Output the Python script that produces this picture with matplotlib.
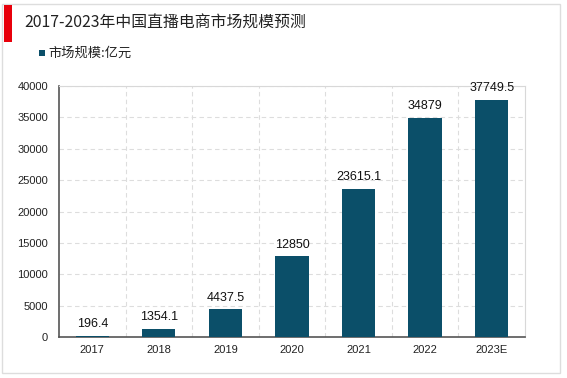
import matplotlib.pyplot as plt
from matplotlib.patches import Rectangle

plt.rcParams['font.family'] = ['Noto Sans CJK SC', 'DejaVu Sans']

years = ['2017', '2018', '2019', '2020', '2021', '2022', '2023E']
values = [196.4, 1354.1, 4437.5, 12850, 23615.1, 34879, 37749.5]
labels = ['196.4', '1354.1', '4437.5', '12850', '23615.1', '34879', '37749.5']
bar_color = '#0b4f69'
num_font = ['Liberation Sans', 'DejaVu Sans']

W, H = 567, 378
fig = plt.figure(figsize=(W / 100, H / 100), dpi=100)

# outer frame and red marker
fig.patches.append(Rectangle((2 / W, 5 / H), 558 / W, 369 / H, transform=fig.transFigure,
                             fill=False, edgecolor='#dddddd', linewidth=1))
fig.patches.append(Rectangle((4 / W, 1 - 42 / H), 8 / W, 37 / H, transform=fig.transFigure,
                             color='#e8000b', linewidth=0))

fig.text(24 / W, 1 - 23 / H, '2017-2023年中国直播电商市场规模预测', fontsize=11.4,
         va='center', ha='left', color='#222222')
fig.patches.append(Rectangle((39 / W, 1 - 56 / H), 6 / W, 6 / H, transform=fig.transFigure,
                             color=bar_color, linewidth=0))
fig.text(48 / W, 1 - 53 / H, '市场规模:亿元', fontsize=9.5, va='center', ha='left', color='#222222')

ax = fig.add_axes([59 / W, 1 - 337 / H, 466 / W, 251 / H])
x = range(len(years))
ax.bar(x, values, width=0.5, color=bar_color, zorder=3)
for i, (v, t) in enumerate(zip(values, labels)):
    ax.text(i, v + 900, t, ha='center', va='bottom', fontsize=9, color='#111111',
            family=num_font, zorder=4)

ax.set_xlim(-0.5, len(years) - 0.5)
ax.set_ylim(0, 40000)
ax.set_yticks(range(0, 40001, 5000))
ax.set_xticks(list(x))
ax.set_xticklabels(years)
ax.set_xticks([i + 0.5 for i in range(len(years) - 1)], minor=True)
ax.tick_params(axis='both', which='both', length=0, labelsize=8, colors='#222222')
ax.tick_params(axis='x', pad=6)
ax.tick_params(axis='y', pad=8)
for lab in ax.get_xticklabels() + ax.get_yticklabels():
    lab.set_family(num_font)
ax.grid(axis='y', which='major', linestyle=(0, (4, 3)), color='#dddddd', linewidth=0.8, zorder=0)
ax.grid(axis='x', which='minor', linestyle=(0, (4, 3)), color='#dddddd', linewidth=0.8, zorder=0)
ax.grid(axis='x', which='major', visible=False)

for s in ['left', 'bottom']:
    ax.spines[s].set_color('#555555')
    ax.spines[s].set_linewidth(1.2)
for s in ['top', 'right']:
    ax.spines[s].set_color('#d8d8d8')
    ax.spines[s].set_linewidth(0.8)

fig.savefig('out.png', dpi=100)
